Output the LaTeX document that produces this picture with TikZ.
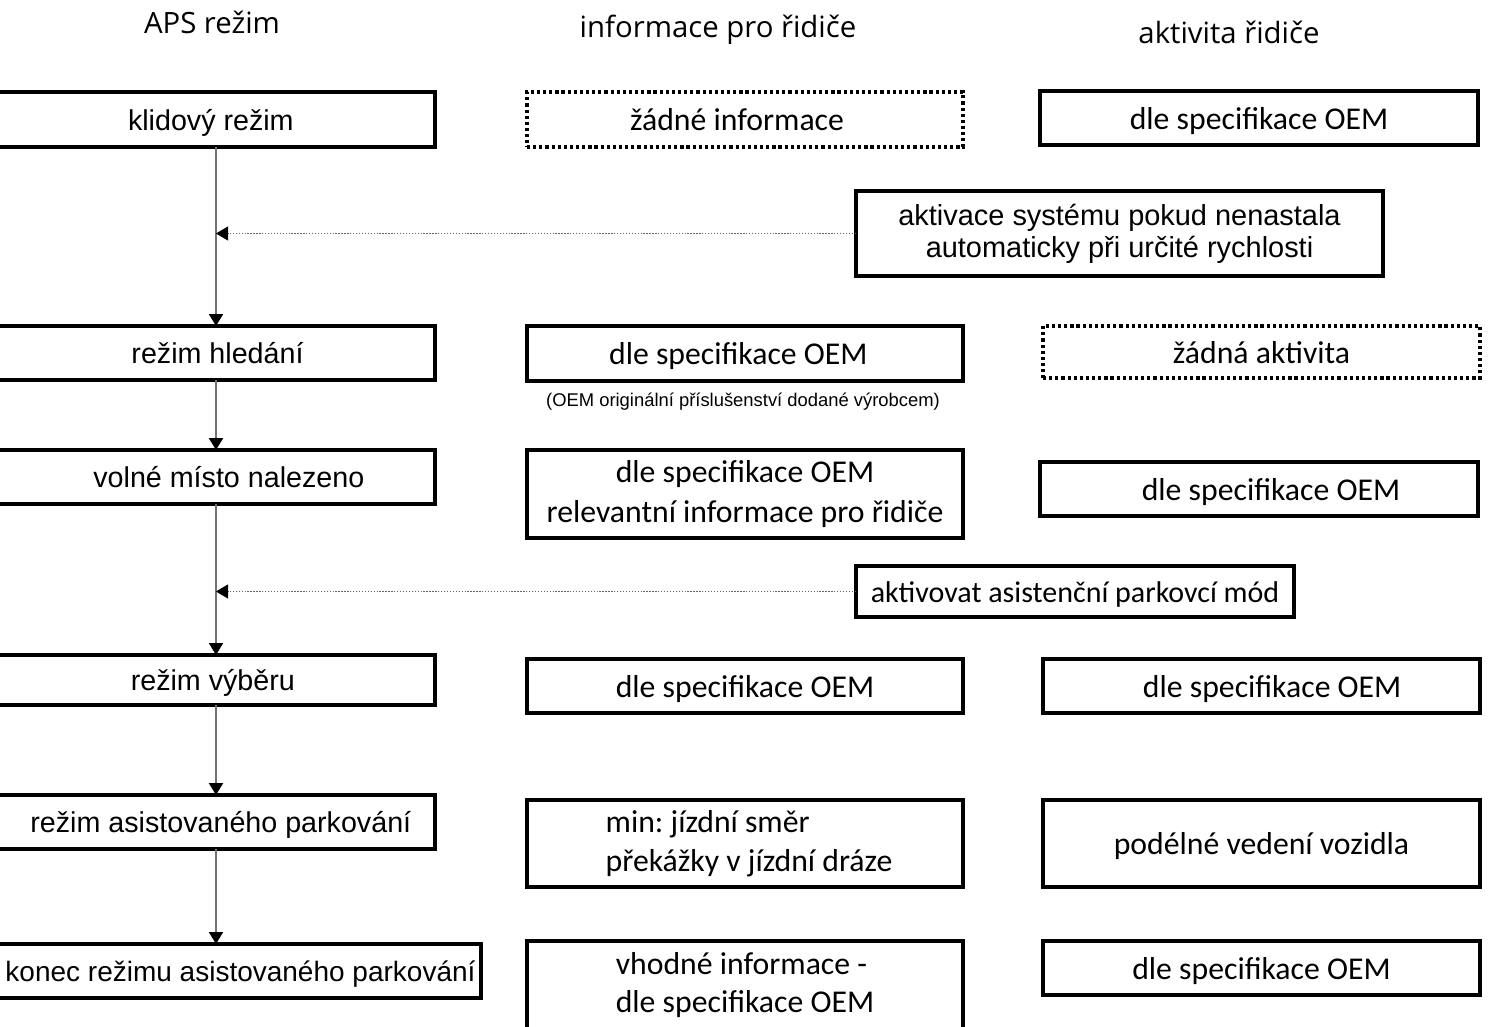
\documentclass[tikz,border=0pt]{standalone}
\usepackage{fontspec}
\setmainfont{Carlito}
\newfontfamily\arialf{Liberation Sans}
\newfontfamily\hdrf{Open Sans}
\usetikzlibrary{arrows.meta}
\frenchspacing
\tikzset{
  bx/.style n args={2}{draw=black, line width=3pt, minimum width=#1*0.75pt, minimum height=#2*0.75pt, inner sep=0pt, outer sep=0pt, fill=white},
  dbx/.style n args={2}{bx={#1}{#2}, line width=2.6pt, dash pattern=on 2.4pt off 2.2pt},
  ob/.style n args={2}{minimum width=#1*0.75pt, minimum height=#2*0.75pt, inner sep=0pt, outer sep=0pt},
  frame/.style={draw=black, line width=3pt, line join=miter},
  lt/.style={font=\arialf\fontsize{21.5}{25}\selectfont, text height=18pt, text depth=2pt},
  arialtxt/.style={font=\arialf\fontsize{21.7}{24}\selectfont, align=center},
  ct/.style={font=\fontsize{23.8}{30}\selectfont, align=center},
  ct1/.style={ct, text height=20pt, text depth=3pt},
  hd/.style={font=\hdrf\fontsize{22}{26}\selectfont},
  note/.style={font=\arialf\fontsize{13.8}{16}\selectfont},
  conn/.style={draw=black!55, line width=1.5pt, -{Triangle[width=10.5pt,length=9pt,color=black]}},
  dconn/.style={draw=black!60, line width=0.8pt, dash pattern=on 1pt off 1.2pt, -{Triangle[width=10.5pt,length=9pt,color=black]}},
}
\begin{document}
\begin{tikzpicture}[x=0.75pt,y=-0.75pt]
\useasboundingbox (0,0) rectangle (1488,1027);
% headers
\node[hd] (h1) at (212,22) {APS režim};
\node[hd] (h2) at (718,30) {informace pro řidiče};
\node[hd] (h3) at (1229,32) {aktivita řidiče};
% left column (boxes run off the left edge)
\node[ob={435}{55}, lt] (l1) at (217.5,119.5) {\hspace*{-10pt}klidový režim};
\node[ob={435}{54}, lt] (l2) at (217.5,353) {režim hledání};
\node[ob={435}{54}, lt] (l3) at (217.5,477) {\hspace*{17pt}volné místo nalezeno};
\node[ob={435}{50}, lt] (l4) at (217.5,680) {\hspace*{-7pt}režim výběru};
\node[ob={435}{54}, lt] (l5) at (217.5,822) {\hspace*{5pt}režim asistovaného parkování};
\node[ob={481}{54}, lt, font=\arialf\fontsize{21}{25}\selectfont] (l6) at (240.5,971) {konec režimu asistovaného parkování};
\foreach \n in {l1,l2,l3,l4,l5,l6}
  \draw[frame] ([xshift=-6pt]\n.north west) -- (\n.north east) -- (\n.south east) -- ([xshift=-6pt]\n.south west);
% middle column
\node[dbx={436}{55}, ct1] (m1) at (745,119.5) {\hspace*{-12pt}žádné informace};
\node[bx={436}{55}, ct1] (m2) at (745,353.5) {\hspace*{-10pt}dle specifikace OEM};
\node[note] (n1) at (743,402) {(OEM originální příslušenství dodané výrobcem)};
\node[bx={436}{88}, ct] (m3) at (745,494) {dle specifikace OEM\\relevantní informace pro řidiče};
\node[bx={436}{54}, ct1] (m4) at (745,686) {dle specifikace OEM};
\node[bx={436}{87}, ct, font=\fontsize{23.8}{29}\selectfont, align=left] (m5) at (745,843.5) {\hspace*{6pt}min: jízdní směr\\\hspace*{6pt}překážky v jízdní dráze};
\node[bx={436}{88}, ct, font=\fontsize{23.8}{29}\selectfont, align=left] (m6) at (745,985) {vhodné informace -\\dle specifikace OEM};
% right column
\node[bx={438}{54}, ct1] (r1) at (1259,118) {dle specifikace OEM};
\node[bx={527}{85}, arialtxt] (a1) at (1119.5,233.5) {aktivace systému pokud nenastala\\automaticky při určité rychlosti};
\node[dbx={437}{52}, ct1] (r2) at (1261.5,352) {žádná aktivita};
\node[bx={438}{54}, ct1] (r3) at (1259,489) {\hspace*{18pt}dle specifikace OEM};
\node[bx={438}{51}, ct1, font=\fontsize{22.5}{28}\selectfont] (a2) at (1075,591.5) {aktivovat asistenční parkovcí mód};
\node[bx={437}{54}, ct1] (r4) at (1261.5,686) {\hspace*{16pt}dle specifikace OEM};
\node[bx={437}{87}, ct1] (r5) at (1261.5,843.5) {podélné vedení vozidla};
\node[bx={437}{54}, ct1] (r6) at (1261.5,968) {dle specifikace OEM};
% spine
\coordinate (sp) at (216,0);
\draw[conn] (l1.south -| sp) -- (l2.north -| sp);
\draw[conn] (l2.south -| sp) -- (l3.north -| sp);
\draw[conn] (l3.south -| sp) -- (l4.north -| sp);
\draw[conn] (l4.south -| sp) -- (l5.north -| sp);
\draw[conn] (l5.south -| sp) -- (l6.north -| sp);
\draw[dconn] (a1.west) -- (a1.west -| sp);
\draw[dconn] (a2.west) -- (a2.west -| sp);
\end{tikzpicture}
\end{document}
